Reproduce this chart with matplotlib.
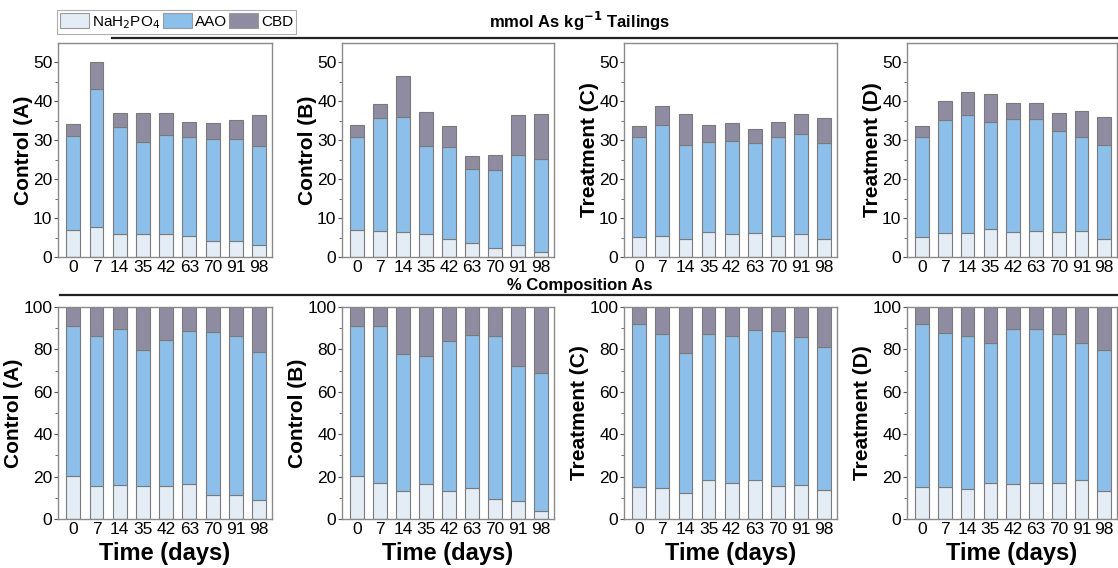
import matplotlib
matplotlib.use('Agg')
import matplotlib.pyplot as plt
import numpy as np
from matplotlib.patches import Patch
from matplotlib.lines import Line2D

plt.rcParams['font.family'] = ['Liberation Sans', 'DejaVu Sans']

# Sampling days (x categories)
days = ['0', '7', '14', '35', '42', '63', '70', '91', '98']
fractions = ['NaH$_2$PO$_4$', 'AAO', 'CBD']
colors = ['#e4edf6', '#8cbfe9', '#8f8ca2']

# mmol As per kg tailings, per fraction
ctrl_a_nah = [6.9, 7.6, 5.9, 5.9, 5.8, 5.5, 4.0, 4.0, 3.1]
ctrl_a_aao = [24.1, 35.7, 27.5, 23.6, 25.5, 25.3, 26.3, 26.3, 25.5]
ctrl_a_cbd = [3.1, 6.7, 3.5, 7.4, 5.8, 3.8, 4.1, 5.0, 7.8]

ctrl_b_nah = [6.9, 6.8, 6.3, 6.0, 4.5, 3.6, 2.4, 3.2, 1.4]
ctrl_b_aao = [24.0, 29.0, 29.8, 22.4, 23.7, 18.9, 19.9, 23.1, 23.9]
ctrl_b_cbd = [3.1, 3.6, 10.5, 8.8, 5.4, 3.4, 3.8, 10.3, 11.5]

trt_c_nah = [5.1, 5.5, 4.5, 6.3, 5.8, 6.1, 5.5, 5.8, 4.7]
trt_c_aao = [25.7, 28.3, 24.2, 23.2, 23.9, 23.3, 25.4, 25.7, 24.5]
trt_c_cbd = [2.8, 5.0, 8.1, 4.5, 4.7, 3.6, 3.9, 5.3, 6.6]

trt_d_nah = [5.1, 6.1, 6.1, 7.1, 6.5, 6.8, 6.3, 6.8, 4.7]
trt_d_aao = [25.7, 29.1, 30.3, 27.7, 29.0, 28.7, 26.1, 24.1, 24.0]
trt_d_cbd = [2.8, 4.9, 6.0, 7.2, 4.0, 4.1, 4.6, 6.5, 7.4]

# % composition As
pct_a_nah = [20.2, 15.5, 16.0, 15.8, 15.5, 16.6, 11.3, 11.3, 8.9]
pct_a_aao = [71.0, 70.6, 73.8, 64.1, 69.0, 72.3, 76.8, 75.1, 70.1]
pct_a_cbd = [8.8, 13.9, 10.2, 20.1, 15.5, 11.1, 11.9, 13.6, 21.0]

pct_b_nah = [20.2, 16.9, 13.2, 16.6, 13.2, 14.4, 9.6, 8.6, 3.8]
pct_b_aao = [71.0, 74.3, 64.4, 60.4, 70.8, 72.6, 76.5, 63.7, 65.0]
pct_b_cbd = [8.8, 8.8, 22.4, 23.0, 16.0, 13.0, 13.9, 27.7, 31.2]

pct_c_nah = [15.0, 14.6, 12.1, 18.3, 17.1, 18.3, 15.8, 16.0, 13.6]
pct_c_aao = [77.2, 72.7, 66.0, 68.8, 69.3, 70.9, 72.9, 69.7, 67.7]
pct_c_cbd = [7.8, 12.7, 21.9, 12.9, 13.6, 10.8, 11.3, 14.3, 18.7]

pct_d_nah = [15.0, 15.0, 14.1, 16.9, 16.3, 17.1, 16.9, 18.3, 13.2]
pct_d_aao = [77.2, 72.9, 72.0, 66.3, 73.5, 72.6, 70.4, 64.5, 66.3]
pct_d_cbd = [7.8, 12.1, 13.9, 16.8, 10.2, 10.3, 12.7, 17.2, 20.5]

panel_labels = ['Control (A)', 'Control (B)', 'Treatment (C)', 'Treatment (D)']
top_data = [(ctrl_a_nah, ctrl_a_aao, ctrl_a_cbd), (ctrl_b_nah, ctrl_b_aao, ctrl_b_cbd),
            (trt_c_nah, trt_c_aao, trt_c_cbd), (trt_d_nah, trt_d_aao, trt_d_cbd)]
bot_data = [(pct_a_nah, pct_a_aao, pct_a_cbd), (pct_b_nah, pct_b_aao, pct_b_cbd),
            (pct_c_nah, pct_c_aao, pct_c_cbd), (pct_d_nah, pct_d_aao, pct_d_cbd)]

W, H = 1118, 568
fig = plt.figure(figsize=(W / 100, H / 100), dpi=100)


def px_axes(x0, y0, x1, y1):
    return fig.add_axes([x0 / W, 1 - y1 / H, (x1 - x0) / W, (y1 - y0) / H])


def draw_stack(ax, series, ymax, major, ytop, xlabel=None):
    x = np.arange(len(days))
    bottom = np.zeros(len(days))
    for vals, c in zip(series, colors):
        ax.bar(x, vals, 0.6, bottom=bottom, color=c, edgecolor='#7a7a7a', linewidth=0.8)
        bottom += np.array(vals)
    ax.set_xlim(-0.66, 8.56)
    ax.set_ylim(0, ymax)
    ax.set_xticks(x)
    ax.set_xticklabels(days, fontsize=12.5)
    ax.set_yticks(np.arange(0, ytop + 0.1, major))
    ax.set_yticks(np.arange(major / 2, ymax, major), minor=True)
    ax.tick_params(axis='y', labelsize=12.5, length=3, width=0.8, color='#555555', pad=1)
    ax.tick_params(axis='y', which='minor', length=2, width=0.6, color='#555555')
    ax.tick_params(axis='x', length=0, pad=2)
    for s in ax.spines.values():
        s.set_color('#8a8a8a')
        s.set_linewidth(1.0)
    if xlabel:
        ax.set_xlabel(xlabel, fontsize=17, fontweight='bold', labelpad=4)


xs = [(58, 272), (342, 554), (624, 837), (907, 1117)]
for i, (x0, x1) in enumerate(xs):
    ax = px_axes(x0, 43, x1, 257)
    draw_stack(ax, top_data[i], 55, 10, 50)
    ax.set_ylabel(panel_labels[i], fontsize=15, fontweight='bold', labelpad=0)

    ax2 = px_axes(x0, 307, x1, 519)
    draw_stack(ax2, bot_data[i], 100, 20, 100, xlabel='Time (days)')
    ax2.set_ylabel(panel_labels[i], fontsize=15, fontweight='bold', labelpad=0)

# section headers with rules
fig.text(580 / W, 1 - 21 / H, 'mmol As kg$^{\\mathbf{-1}}$ Tailings', ha='center', va='center',
         fontsize=12, fontweight='bold')
fig.text(580 / W, 1 - 285 / H, '% Composition As', ha='center', va='center',
         fontsize=12, fontweight='bold')
fig.add_artist(Line2D([112 / W, 1.0], [1 - 38 / H, 1 - 38 / H], color='#222222', linewidth=1.6))
fig.add_artist(Line2D([60 / W, 1.0], [1 - 295 / H, 1 - 295 / H], color='#222222', linewidth=1.6))

handles = [Patch(facecolor=c, edgecolor='#9a9a9a', linewidth=0.8) for c in colors]
leg = fig.legend(handles, fractions, loc='upper left', bbox_to_anchor=(57 / W, 1 - 10 / H),
                 ncol=3, fontsize=11, frameon=True, fancybox=False, edgecolor='#9a9a9a',
                 handlelength=1.9, handleheight=1.15, handletextpad=0.2, columnspacing=0.15,
                 borderpad=0.2, borderaxespad=0)
leg.get_frame().set_linewidth(0.8)
leg.set_zorder(5)
leg.get_frame().set_facecolor('white')

fig.savefig('out.png', dpi=100)
